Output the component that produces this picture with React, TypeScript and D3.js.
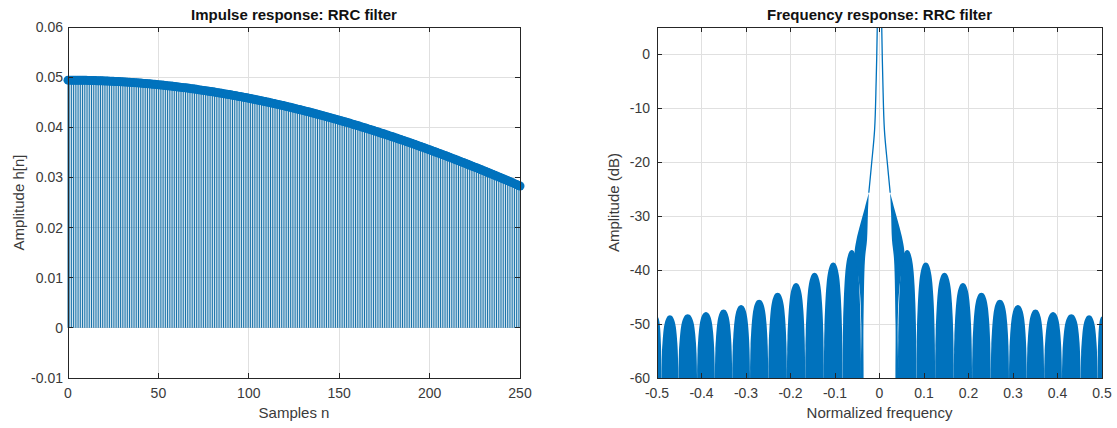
import React from 'react';
import * as d3 from 'd3';

// ---------- Impulse response: RRC filter (samples n = 0..250) ----------
const impulseValues: number[] = [
  0.04940, 0.04940, 0.04939, 0.04939, 0.04938, 0.04938, 0.04938, 0.04937, 0.04937, 0.04936,
  0.04936, 0.04935, 0.04934, 0.04933, 0.04932, 0.04931, 0.04929, 0.04928, 0.04927, 0.04926,
  0.04925, 0.04923, 0.04921, 0.04920, 0.04918, 0.04916, 0.04914, 0.04912, 0.04911, 0.04909,
  0.04907, 0.04905, 0.04902, 0.04900, 0.04897, 0.04895, 0.04892, 0.04890, 0.04887, 0.04885,
  0.04882, 0.04879, 0.04875, 0.04872, 0.04869, 0.04866, 0.04862, 0.04859, 0.04856, 0.04852,
  0.04849, 0.04845, 0.04841, 0.04837, 0.04833, 0.04829, 0.04825, 0.04821, 0.04817, 0.04813,
  0.04809, 0.04804, 0.04800, 0.04795, 0.04790, 0.04786, 0.04781, 0.04776, 0.04771, 0.04767,
  0.04762, 0.04757, 0.04751, 0.04746, 0.04740, 0.04735, 0.04730, 0.04724, 0.04719, 0.04713,
  0.04708, 0.04702, 0.04696, 0.04690, 0.04684, 0.04678, 0.04671, 0.04665, 0.04659, 0.04653,
  0.04647, 0.04640, 0.04634, 0.04627, 0.04620, 0.04614, 0.04607, 0.04600, 0.04593, 0.04587,
  0.04580, 0.04573, 0.04565, 0.04558, 0.04550, 0.04543, 0.04535, 0.04528, 0.04520, 0.04513,
  0.04505, 0.04497, 0.04489, 0.04481, 0.04473, 0.04465, 0.04456, 0.04448, 0.04440, 0.04432,
  0.04424, 0.04415, 0.04406, 0.04398, 0.04389, 0.04380, 0.04371, 0.04362, 0.04354, 0.04345,
  0.04336, 0.04327, 0.04317, 0.04308, 0.04298, 0.04289, 0.04280, 0.04270, 0.04261, 0.04251,
  0.04242, 0.04232, 0.04222, 0.04212, 0.04202, 0.04192, 0.04182, 0.04172, 0.04162, 0.04152,
  0.04142, 0.04131, 0.04121, 0.04110, 0.04099, 0.04089, 0.04078, 0.04067, 0.04056, 0.04046,
  0.04035, 0.04024, 0.04013, 0.04001, 0.03990, 0.03979, 0.03968, 0.03957, 0.03945, 0.03934,
  0.03923, 0.03911, 0.03899, 0.03887, 0.03875, 0.03864, 0.03852, 0.03840, 0.03828, 0.03816,
  0.03804, 0.03792, 0.03779, 0.03767, 0.03755, 0.03743, 0.03730, 0.03718, 0.03706, 0.03693,
  0.03681, 0.03668, 0.03655, 0.03642, 0.03629, 0.03616, 0.03603, 0.03590, 0.03577, 0.03564,
  0.03551, 0.03538, 0.03524, 0.03511, 0.03497, 0.03484, 0.03471, 0.03457, 0.03444, 0.03430,
  0.03417, 0.03403, 0.03389, 0.03375, 0.03361, 0.03347, 0.03333, 0.03319, 0.03305, 0.03291,
  0.03277, 0.03263, 0.03248, 0.03234, 0.03219, 0.03205, 0.03191, 0.03176, 0.03162, 0.03147,
  0.03133, 0.03118, 0.03103, 0.03088, 0.03073, 0.03059, 0.03044, 0.03029, 0.03014, 0.02999,
  0.02984, 0.02969, 0.02953, 0.02938, 0.02922, 0.02907, 0.02892, 0.02876, 0.02861, 0.02845,
  0.02830,
];
const impulseXTicks = [0, 50, 100, 150, 200, 250];
const impulseYTicks = [-0.01, 0, 0.01, 0.02, 0.03, 0.04, 0.05, 0.06];

// ---------- Frequency response: RRC filter ----------
// sidelobe nulls (positive frequencies; mirrored for negative side)
const lobeNulls = [0.0415, 0.083, 0.125, 0.167, 0.208, 0.25, 0.291, 0.331, 0.37, 0.41, 0.452, 0.49, 0.51];
// upper envelope peak (dB) of each sidelobe between consecutive nulls
const lobePeaksDb = [-36.3, -38.6, -40.5, -42.4, -44.2, -45.5, -46.5, -47.3, -47.8, -48.2, -48.4, -48.6];
// floor the filled lobes reach down to (dB)
const lobeFloorDb = -62;
// shape of a sidelobe: relative position inside the lobe and fraction of height above the floor
const lobeProfileT = [0, 0.005, 0.015, 0.03, 0.06, 0.1, 0.15, 0.2, 0.3, 0.4, 0.5];
const lobeProfileFrac = [0, 0.2, 0.35, 0.48, 0.62, 0.74, 0.84, 0.9, 0.965, 0.993, 1];
// main-lobe spike edge (left side, mirrored on the right) [freq, dB]
const spikeEdge: [number, number][] = [[-0.0042, 12], [-0.005, 5], [-0.0075, -5], [-0.011, -14], [-0.018, -20.5], [-0.024, -25.7]];
// main-lobe skirt ("horn") outline, left side [freq, dB]
const hornOuter: [number, number][] = [[-0.024, -25.7], [-0.033, -28.5], [-0.043, -31.5], [-0.052, -34.5], [-0.056, -37], [-0.05, -40], [-0.044, -44], [-0.041, -50], [-0.04, -64]];
const hornInner: [number, number][] = [[-0.0385, -64], [-0.036, -50], [-0.0326, -38], [-0.028, -34.4], [-0.026, -29.4], [-0.024, -25.7]];
const freqXTicks = [-0.5, -0.4, -0.3, -0.2, -0.1, 0, 0.1, 0.2, 0.3, 0.4, 0.5];
const freqYTicks = [-60, -50, -40, -30, -20, -10, 0];

const BLUE = '#0072BD';
const STEM = '#1570a8';
const GRID = '#e0e0e0';
const AXIS = '#262626';
const TXT = '#3a3a3a';
const FONT = '"Liberation Sans", Arial, Helvetica, sans-serif';

type Box = { x0: number; x1: number; y0: number; y1: number };

function Grid({ box, xs, ys, xTicks, yTicks }: any) {
  return (
    <g shapeRendering="crispEdges">
      {xTicks.map((t: number) => (
        <line key={'gx' + t} x1={xs(t)} x2={xs(t)} y1={box.y0} y2={box.y1} stroke={GRID} />
      ))}
      {yTicks.map((t: number) => (
        <line key={'gy' + t} x1={box.x0} x2={box.x1} y1={ys(t)} y2={ys(t)} stroke={GRID} />
      ))}
    </g>
  );
}

function Axes({ box, xs, ys, xTicks, yTicks, fmtX, fmtY, title, xLabel, yLabel, yLabelX, yTickX }: any) {
  const tl = 5;
  return (
    <g fontFamily={FONT}>
      <g shapeRendering="crispEdges" stroke={AXIS} strokeWidth={1}>
        <rect x={box.x0} y={box.y0} width={box.x1 - box.x0} height={box.y1 - box.y0} fill="none" />
        {xTicks.map((t: number) => (
          <g key={'tx' + t}>
            <line x1={xs(t)} x2={xs(t)} y1={box.y1} y2={box.y1 - tl} />
            <line x1={xs(t)} x2={xs(t)} y1={box.y0} y2={box.y0 + tl} />
          </g>
        ))}
        {yTicks.map((t: number) => (
          <g key={'ty' + t}>
            <line x1={box.x0} x2={box.x0 + tl} y1={ys(t)} y2={ys(t)} />
            <line x1={box.x1} x2={box.x1 - tl} y1={ys(t)} y2={ys(t)} />
          </g>
        ))}
      </g>
      {xTicks.map((t: number) => (
        <text key={'lx' + t} x={xs(t)} y={398} textAnchor="middle" fontSize={14} fill={TXT}>{fmtX(t)}</text>
      ))}
      {yTicks.map((t: number) => (
        <text key={'ly' + t} x={yTickX} y={ys(t) + 5} textAnchor="end" fontSize={14} fill={TXT}>{fmtY(t)}</text>
      ))}
      <text x={(box.x0 + box.x1) / 2} y={19.5} textAnchor="middle" fontSize={15} fontWeight="bold" fill="#111">{title}</text>
      <text x={(box.x0 + box.x1) / 2} y={418} textAnchor="middle" fontSize={15} fill={TXT}>{xLabel}</text>
      <text transform={`translate(${yLabelX},${(box.y0 + box.y1) / 2}) rotate(-90)`} textAnchor="middle" fontSize={15} fill={TXT}>{yLabel}</text>
    </g>
  );
}

export default function App() {
  const W = 1117, H = 428;
  const boxL: Box = { x0: 68, x1: 520, y0: 27, y1: 378 };
  const boxR: Box = { x0: 657, x1: 1102, y0: 27, y1: 378 };

  const xL = d3.scaleLinear().domain([0, 250]).range([boxL.x0, boxL.x1]);
  const yL = d3.scaleLinear().domain([-0.01, 0.06]).range([boxL.y1, boxL.y0]);
  const xR = d3.scaleLinear().domain([-0.5, 0.5]).range([boxR.x0, boxR.x1]);
  const yR = d3.scaleLinear().domain([-60, 5]).range([boxR.y1, boxR.y0]);

  // build sidelobe domes
  const domes: [number, number][][] = [];
  for (let i = 0; i < lobePeaksDb.length; i++) {
    const a = lobeNulls[i], b = lobeNulls[i + 1], p = lobePeaksDb[i];
    const lvl = (k: number) => lobeFloorDb + lobeProfileFrac[k] * (p - lobeFloorDb);
    const pts: [number, number][] = [];
    lobeProfileT.forEach((t, k) => pts.push([a + t * (b - a), lvl(k)]));
    for (let k = lobeProfileT.length - 2; k >= 0; k--) pts.push([a + (1 - lobeProfileT[k]) * (b - a), lvl(k)]);
    domes.push(pts);
    domes.push(pts.map(([f, d]) => [-f, d] as [number, number]).reverse());
  }
  const area = d3.area<[number, number]>()
    .x(d => xR(d[0]))
    .y0(yR(-80))
    .y1(d => yR(d[1]))
    .curve(d3.curveMonotoneX);
  const line = d3.line<[number, number]>().x(d => xR(d[0])).y(d => yR(d[1]));
  const smooth = d3.line<[number, number]>().x(d => xR(d[0])).y(d => yR(d[1])).curve(d3.curveCatmullRom);

  const hornLeft: [number, number][] = [...hornOuter, ...hornInner];
  const hornRight = hornLeft.map(([f, d]) => [-f, d] as [number, number]);
  const spikeRight = spikeEdge.map(([f, d]) => [-f, d] as [number, number]);

  const fmtL = (v: number) => (Math.abs(v) < 1e-9 ? '0' : v.toFixed(2));
  const fmtN = (v: number) => String(v);
  const fmtF = (v: number) => (Math.abs(v) < 1e-9 ? '0' : v.toFixed(1));

  return (
    <div style={{ position: 'absolute', left: 0, top: 0 }}>
      <svg width={W} height={H} viewBox={`0 0 ${W} ${H}`} style={{ display: 'block', background: '#fff' }}>
        <defs>
          <clipPath id="clipR"><rect x={boxR.x0} y={boxR.y0} width={boxR.x1 - boxR.x0} height={boxR.y1 - boxR.y0} /></clipPath>
          <clipPath id="clipL"><rect x={boxL.x0 - 6} y={boxL.y0} width={boxL.x1 - boxL.x0 + 12} height={boxL.y1 - boxL.y0} /></clipPath>
        </defs>
        <rect x={0} y={0} width={W} height={H} fill="#fff" />

        {/* left panel */}
        <Grid box={boxL} xs={xL} ys={yL} xTicks={impulseXTicks} yTicks={impulseYTicks} />
        <g clipPath="url(#clipL)">
          {impulseValues.map((v, i) => (
            <line key={'s' + i} x1={xL(i)} x2={xL(i)} y1={yL(0)} y2={yL(v)} stroke={STEM} strokeWidth={1} />
          ))}
          {impulseValues.map((v, i) => (
            <circle key={'m' + i} cx={xL(i)} cy={yL(v)} r={4.5} fill={BLUE} />
          ))}
        </g>
        <Axes box={boxL} xs={xL} ys={yL} xTicks={impulseXTicks} yTicks={impulseYTicks}
          fmtX={fmtN} fmtY={fmtL} title="Impulse response: RRC filter" xLabel="Samples n"
          yLabel="Amplitude h[n]" yLabelX={24} yTickX={63} />

        {/* right panel */}
        <Grid box={boxR} xs={xR} ys={yR} xTicks={freqXTicks} yTicks={freqYTicks} />
        <g clipPath="url(#clipR)">
          {domes.map((pts, i) => (
            <path key={'d' + i} d={area(pts) || ''} fill={BLUE} />
          ))}
          <path d={(smooth(hornLeft) || '') + 'Z'} fill={BLUE} />
          <path d={(smooth(hornRight) || '') + 'Z'} fill={BLUE} />
          <path d={smooth(spikeEdge) || ''} fill="none" stroke={BLUE} strokeWidth={1.3} />
          <path d={smooth(spikeRight) || ''} fill="none" stroke={BLUE} strokeWidth={1.3} />
          <path d={line([spikeEdge[0], spikeRight[0]]) || ''} fill="none" stroke={BLUE} strokeWidth={1.3} />
        </g>
        <Axes box={boxR} xs={xR} ys={yR} xTicks={freqXTicks} yTicks={freqYTicks}
          fmtX={fmtF} fmtY={fmtN} title="Frequency response: RRC filter" xLabel="Normalized frequency"
          yLabel="Amplitude (dB)" yLabelX={619} yTickX={650} />
      </svg>
    </div>
  );
}
